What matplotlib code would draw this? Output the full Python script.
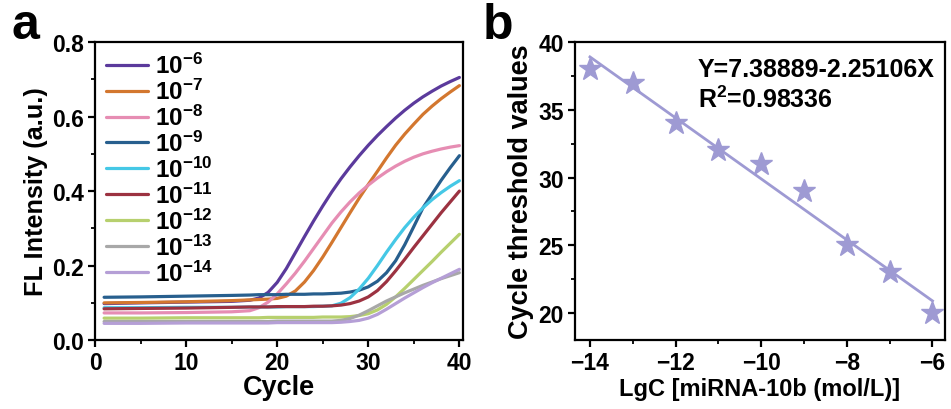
import matplotlib
matplotlib.use("Agg")
import matplotlib.pyplot as plt
from matplotlib.ticker import MultipleLocator

plt.rcParams.update({
    "font.family": ["Liberation Sans", "DejaVu Sans"],
    "font.weight": "bold",
    "axes.labelweight": "bold",
    "mathtext.fontset": "custom",
    "mathtext.rm": "Liberation Sans:bold",
    "mathtext.bf": "Liberation Sans:bold",
    "mathtext.it": "Liberation Sans:bold",
    "mathtext.default": "bf",
    "axes.linewidth": 1.6,
})

# ---------------- Panel a data ----------------
cycles = [1, 5, 10, 15, 17, 18, 19, 20, 21, 22, 23, 24, 25, 26, 27, 28,
          29, 30, 31, 32, 33, 34, 35, 36, 37, 38, 39, 40]

conc_labels = [r"$10^{-6}$", r"$10^{-7}$", r"$10^{-8}$", r"$10^{-9}$", r"$10^{-10}$",
               r"$10^{-11}$", r"$10^{-12}$", r"$10^{-13}$", r"$10^{-14}$"]

fl_1e6 = [0.098, 0.100, 0.102, 0.104, 0.107, 0.113, 0.128, 0.155, 0.192, 0.235,
          0.278, 0.320, 0.360, 0.398, 0.433, 0.465, 0.495, 0.523, 0.549, 0.573,
          0.596, 0.617, 0.636, 0.653, 0.668, 0.682, 0.694, 0.705]
fl_1e7 = [0.100, 0.101, 0.103, 0.106, 0.108, 0.109, 0.110, 0.112, 0.118, 0.132,
          0.156, 0.187, 0.223, 0.262, 0.302, 0.342, 0.381, 0.418, 0.453, 0.489,
          0.523, 0.553, 0.580, 0.606, 0.628, 0.648, 0.666, 0.683]
fl_1e8 = [0.073, 0.073, 0.074, 0.076, 0.079, 0.087, 0.102, 0.124, 0.151, 0.180,
          0.212, 0.246, 0.280, 0.314, 0.344, 0.371, 0.395, 0.416, 0.435, 0.452,
          0.467, 0.480, 0.491, 0.500, 0.507, 0.513, 0.518, 0.522]
fl_1e9 = [0.115, 0.116, 0.118, 0.120, 0.121, 0.122, 0.122, 0.122, 0.123, 0.123,
          0.123, 0.124, 0.124, 0.125, 0.126, 0.129, 0.134, 0.143, 0.158, 0.181,
          0.213, 0.256, 0.305, 0.355, 0.392, 0.429, 0.463, 0.495]
fl_1e10 = [0.087, 0.087, 0.088, 0.088, 0.089, 0.089, 0.089, 0.089, 0.090, 0.090,
           0.090, 0.090, 0.091, 0.092, 0.099, 0.114, 0.137, 0.166, 0.200, 0.236,
           0.270, 0.302, 0.330, 0.355, 0.377, 0.396, 0.413, 0.428]
fl_1e11 = [0.084, 0.085, 0.086, 0.088, 0.089, 0.089, 0.089, 0.090, 0.090, 0.090,
           0.090, 0.091, 0.091, 0.092, 0.094, 0.098, 0.105, 0.116, 0.133, 0.157,
           0.186, 0.217, 0.249, 0.280, 0.311, 0.342, 0.371, 0.400]
fl_1e12 = [0.059, 0.059, 0.060, 0.060, 0.060, 0.060, 0.061, 0.061, 0.061, 0.061,
           0.061, 0.061, 0.062, 0.062, 0.062, 0.063, 0.066, 0.071, 0.081, 0.096,
           0.116, 0.139, 0.163, 0.187, 0.211, 0.236, 0.260, 0.284]
fl_1e13 = [0.050, 0.050, 0.050, 0.050, 0.050, 0.050, 0.050, 0.051, 0.051, 0.051,
           0.051, 0.051, 0.051, 0.051, 0.053, 0.058, 0.067, 0.079, 0.092, 0.105,
           0.116, 0.127, 0.137, 0.147, 0.156, 0.165, 0.173, 0.181]
fl_1e14 = [0.045, 0.045, 0.046, 0.046, 0.046, 0.046, 0.046, 0.047, 0.047, 0.047,
           0.047, 0.047, 0.047, 0.047, 0.048, 0.050, 0.053, 0.059, 0.069, 0.083,
           0.098, 0.113, 0.127, 0.141, 0.154, 0.166, 0.178, 0.190]

series = [fl_1e6, fl_1e7, fl_1e8, fl_1e9, fl_1e10, fl_1e11, fl_1e12, fl_1e13, fl_1e14]
colors = ["#5B3A9C", "#D3772F", "#E68DB3", "#275F8E", "#45C8E6",
          "#9C3241", "#B7D06E", "#A8A8A8", "#B59FD6"]

# ---------------- Panel b data ----------------
lgc = [-14, -13, -12, -11, -10, -9, -8, -7, -6]
ct = [38, 37, 34, 32, 31, 29, 25, 23, 20]
fit_intercept = 7.38889
fit_slope = -2.25106
fit_x = [-14, -6]

fig = plt.figure(figsize=(9.51, 4.10), dpi=100)
axa = fig.add_axes([0.0999, 0.168, 0.387, 0.727])
axb = fig.add_axes([0.6046, 0.168, 0.389, 0.727])

for vals, c, lab in zip(series, colors, conc_labels):
    axa.plot(cycles, vals, color=c, lw=2.3, label=lab,
             solid_capstyle="round", solid_joinstyle="round")

axa.set_xlim(0, 40.4)
axa.set_ylim(0, 0.8)
axa.xaxis.set_major_locator(MultipleLocator(10))
axa.xaxis.set_minor_locator(MultipleLocator(5))
axa.yaxis.set_minor_locator(MultipleLocator(0.1))
axa.set_yticks([0.0, 0.2, 0.4, 0.6, 0.8])
axa.set_yticklabels(["0.0", "0.2", "0.4", "0.6", "0.8"])
axa.set_xlabel("Cycle", fontsize=19.5, labelpad=0)
axa.set_ylabel("FL Intensity (a.u.)", fontsize=18.2, labelpad=3)
axa.legend(loc="upper left", frameon=False, fontsize=17.5, handlelength=1.75,
           handletextpad=0.25, labelspacing=0.03, borderaxespad=0.3,
           borderpad=0.15)

fit_y = [fit_intercept + fit_slope * x for x in fit_x]
axb.plot(fit_x, fit_y, color="#9E9AD3", lw=2.0)
axb.plot(lgc, ct, linestyle="none", marker="*", markersize=17,
         color="#9E9AD3", markeredgecolor="#9E9AD3")
axb.set_xlim(-14.35, -5.71)
axb.set_ylim(18, 40)
axb.xaxis.set_major_locator(MultipleLocator(2))
axb.xaxis.set_minor_locator(MultipleLocator(1))
axb.yaxis.set_major_locator(MultipleLocator(5))
axb.yaxis.set_minor_locator(MultipleLocator(2.5))
axb.set_xlabel("LgC [miRNA-10b (mol/L)]", fontsize=17, labelpad=2)
axb.set_ylabel("Cycle threshold values", fontsize=19.5, labelpad=3)
axb.text(0.332, 0.909, "Y=7.38889-2.25106X", transform=axb.transAxes,
         fontsize=18, fontweight="bold", va="center", ha="left")
axb.text(0.332, 0.809, r"R$^{2}$=0.98336", transform=axb.transAxes,
         fontsize=18, fontweight="bold", va="center", ha="left")

for ax in (axa, axb):
    ax.tick_params(which="major", direction="out", length=5, width=1.6,
                   labelsize=16.5, pad=3)
    ax.tick_params(which="minor", direction="out", length=3, width=1.3)
    for lbl in ax.get_xticklabels() + ax.get_yticklabels():
        lbl.set_fontweight("bold")

fig.text(0.012, 0.905, "a", fontsize=36, fontweight="bold", va="baseline")
fig.text(0.508, 0.905, "b", fontsize=36, fontweight="bold", va="baseline")

fig.savefig("out.png", dpi=100)
